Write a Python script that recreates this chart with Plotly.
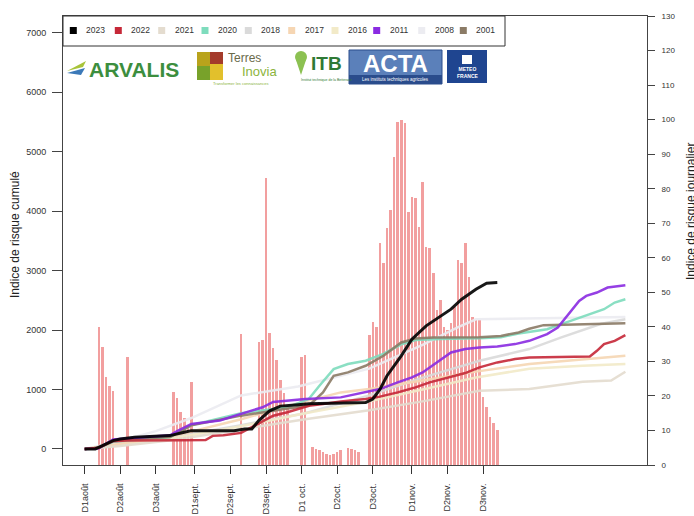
import plotly.graph_objects as go

# ---------------- data ----------------
# x = day of season, 0 = 1 August
tick_days = [0, 10, 20, 31, 41, 51, 61, 71, 81, 92, 102, 112]
tick_labels = ["D1août", "D2août", "D3août", "D1sept.", "D2sept.", "D3sept.",
               "D1 oct.", "D2oct.", "D3oct.", "D1nov.", "D2nov.", "D3nov."]

# daily risk index 2023 (right axis)
bar_days = [4, 5, 6, 7, 8, 12,
            25, 26, 27, 28, 29, 30, 44,
            49, 50, 51, 52, 53, 54, 55, 56, 57, 61, 62,
            64, 65, 66, 67, 68, 69, 70, 71, 72, 74, 75, 76, 77,
            80, 81, 82, 83, 84, 85, 86, 87, 88, 89, 90, 91, 92, 93, 94, 95, 96, 97, 98,
            99, 100, 101, 102, 103, 104, 105, 106, 107, 108, 109, 110, 111, 112, 113,
            114, 115, 116]
bar_values = [40.0, 34.2, 25.6, 22.9, 21.4, 31.4,
              21.2, 19.3, 15.4, 13.5, 11.6, 23.9, 38.0,
              35.7, 36.2, 83.1, 38.1, 33.8, 30.4, 24.6, 20.8, 16.5, 31.4, 31.8,
              5.3, 4.7, 4.2, 3.8, 3.3, 3.0, 3.3, 3.7, 4.3, 4.9, 4.6, 4.3, 3.8,
              37.6, 41.5, 40.0, 64.2, 58.4, 68.5, 73.8, 89.3, 99.4, 99.9, 98.9, 73.3,
              77.7, 77.3, 69.0, 82.0, 63.2, 62.7, 55.5, 44.9, 47.8, 40.0, 39.0, 41.0,
              45.8, 59.4, 58.4, 64.2, 54.5, 42.9, 42.0, 42.0, 19.8, 16.9, 14.0, 12.1, 10.1]

# cumulated risk index per year (left axis)
days_2023 = [0, 3, 8, 10, 14, 24, 28, 30, 42, 45, 47, 49, 52, 55, 60, 63, 79, 81, 83, 85,
             89, 92, 96, 100, 103, 106, 110, 113, 116]
vals_2023 = [0, 0, 140, 168, 196, 224, 280, 308, 308, 336, 336, 480, 640, 720, 745, 760, 780,
             840, 1000, 1231, 1566, 1847, 2070, 2238, 2350, 2518, 2686, 2787, 2798]

days_2022 = [0, 4, 8, 12, 27, 34, 36, 39, 44, 49, 53, 57, 63, 67, 72, 79, 83, 88, 93, 97,
             102, 107, 111, 116, 121, 125, 142, 144, 146, 149, 152]
vals_2022 = [0, 20, 130, 140, 145, 150, 220, 230, 270, 430, 559, 616, 727, 755, 800, 840, 880,
             951, 1035, 1119, 1203, 1276, 1371, 1455, 1511, 1539, 1556, 1650, 1763, 1818, 1914]

days_2021 = [0, 10, 25, 44, 62, 80, 95, 111, 125, 140, 148, 152]
vals_2021 = [0, 50, 150, 330, 500, 650, 800, 979, 1007, 1130, 1150, 1298]

days_2020 = [0, 4, 8, 24, 30, 44, 57, 63, 66, 70, 74, 79, 84, 89, 93, 100, 111, 117, 122,
             126, 130, 134, 138, 142, 146, 149, 152]
vals_2020 = [0, 20, 120, 200, 400, 600, 700, 839, 1063, 1343, 1427, 1483, 1600, 1760, 1830,
             1850, 1860, 1880, 1940, 1975, 2014, 2098, 2182, 2266, 2350, 2462, 2518]

days_2018 = [0, 10, 25, 44, 62, 80, 95, 111, 125, 134, 145, 152]
vals_2018 = [0, 80, 200, 400, 600, 900, 1200, 1483, 1679, 1875, 2100, 2182]

days_2017 = [0, 10, 25, 44, 62, 72, 80, 95, 110, 125, 140, 152]
vals_2017 = [0, 90, 220, 500, 800, 951, 1007, 1150, 1300, 1427, 1500, 1567]

days_2016 = [0, 10, 25, 44, 62, 80, 95, 110, 125, 140, 152]
vals_2016 = [0, 60, 180, 380, 600, 800, 1000, 1200, 1350, 1400, 1427]

days_2011 = [0, 4, 8, 24, 26, 30, 38, 44, 50, 53, 62, 72, 79, 83, 88, 92, 95, 99, 103, 107,
             111, 116, 121, 125, 130, 133, 136, 139, 141, 144, 147, 150, 152]
vals_2011 = [0, 10, 160, 230, 300, 420, 480, 588, 700, 790, 839, 867, 951, 1007, 1119, 1203,
             1287, 1455, 1623, 1679, 1707, 1724, 1763, 1818, 1930, 2042, 2266, 2490, 2573,
             2630, 2714, 2741, 2753]

days_2008 = [0, 8, 20, 30, 44, 60, 80, 95, 105, 110, 152]
vals_2008 = [0, 100, 300, 520, 900, 1050, 1350, 1750, 2050, 2180, 2220]

days_2001 = [0, 4, 8, 24, 30, 44, 57, 63, 67, 70, 74, 79, 84, 89, 93, 98, 111, 117, 122,
             125, 129, 152]
vals_2001 = [0, 20, 150, 200, 400, 560, 680, 727, 951, 1231, 1287, 1399, 1566, 1791, 1858,
             1875, 1880, 1900, 1959, 2020, 2082, 2115]

years = ["2023", "2022", "2021", "2020", "2018", "2017", "2016", "2011", "2008", "2001"]
year_colors = ["#000000", "#C62838", "#E4DCCF", "#7EDCBD", "#DADADA", "#F6D6B3",
               "#F2EAC8", "#8A2BE2", "#ECECF1", "#8B7B66"]
series = {
    "2023": (days_2023, vals_2023), "2022": (days_2022, vals_2022),
    "2021": (days_2021, vals_2021), "2020": (days_2020, vals_2020),
    "2018": (days_2018, vals_2018), "2017": (days_2017, vals_2017),
    "2016": (days_2016, vals_2016), "2011": (days_2011, vals_2011),
    "2008": (days_2008, vals_2008), "2001": (days_2001, vals_2001),
}
draw_order = ["2008", "2018", "2016", "2017", "2021", "2020", "2001", "2011", "2022", "2023"]

# ---------------- layout helpers ----------------
W, H = 694, 516
L, R, T, B = 63, 47, 16, 51
PW, PH = W - L - R, H - T - B


def px(x):
    return (x - L) / PW


def py(y):
    return (H - B - y) / PH


FONT = "Liberation Sans, Arial, sans-serif"

fig = go.Figure()

fig.add_trace(go.Bar(
    x=bar_days, y=bar_values, yaxis="y", width=0.72,
    marker=dict(color="rgba(236,118,118,0.7)", line=dict(width=0)),
    showlegend=False, hoverinfo="skip"))

col = dict(zip(years, year_colors))
for yr in draw_order:
    d, v = series[yr]
    fig.add_trace(go.Scatter(
        x=d, y=v, yaxis="y2", mode="lines", name=yr,
        line=dict(color=col[yr], width=3 if yr == "2023" else 2.5),
        opacity=0.9, showlegend=False))

shapes = []
annotations = []


def txt(x, y, s, size, color, angle=0, xanchor="center"):
    annotations.append(dict(x=px(x), y=py(y), xref="paper", yref="paper", text=s,
                            showarrow=False, xanchor=xanchor, yanchor="middle",
                            textangle=angle,
                            font=dict(size=size, color=color, family=FONT)))


def rect(x0, y0, x1, y1, fill, line=None, kind="rect"):
    shapes.append(dict(type=kind, xref="paper", yref="paper", x0=px(x0), x1=px(x1),
                       y0=py(y1), y1=py(y0), fillcolor=fill,
                       line=line if line else dict(width=0), layer="above"))


def tri(pts, fill):
    p = " L ".join(f"{px(a)},{py(b)}" for a, b in pts)
    shapes.append(dict(type="path", xref="paper", yref="paper", layer="above",
                       path=f"M {p} Z", fillcolor=fill, line=dict(width=0)))


# legend box
rect(63, 16, 505, 46, "white", dict(color="#333", width=1))
sq_x = [73.3, 118.3, 161.7, 205, 248.3, 291.7, 335, 376.7, 421.7, 463.3]
for i, yr in enumerate(years):
    cx = sq_x[i]
    rect(cx - 3.5, 27, cx + 3.5, 34, col[yr])
    txt(cx + 11, 30.5, yr, 8.5, "#333", xanchor="left")

# logos (drawn as simple shapes + text)
tri([(67, 71), (86, 61), (83, 67)], "#A8C43A")
tri([(67, 73), (85, 68), (81, 75)], "#3B79B8")
txt(134, 69.5, "<b>ARVALIS</b>", 21, "#3C8E3E")

for (a, b_, c, d_, fc) in [(197, 52, 210, 66, "#B9A31C"), (210, 52, 223, 64, "#A43B2B"),
                           (197, 66, 210, 80, "#78A22A"), (210, 64, 223, 80, "#E2C02C")]:
    rect(a, b_, c, d_, fc)
txt(244, 57.5, "Terres", 12, "#6A6A4A")
txt(259, 71, "Inovia", 13, "#8BB43C")
txt(240, 83, "Transformer les connaissances", 4, "#8BB43C")

rect(295, 51, 307, 63, "#8CC152", kind="circle")
tri([(296, 60), (306, 60), (301, 75)], "#8CC152")
txt(326, 64, "<b>ITB</b>", 19, "#2F7A35")
txt(326, 80, "Institut technique de la Betterave", 3.5, "#2F7A35")

rect(349, 50, 442, 84, "#5B80BA", dict(color="#2A4C8C", width=1))
rect(349, 75, 442, 84, "#2A4C8C")
txt(395, 63, "<b>ACTA</b>", 24, "white")
txt(395, 79.5, "Les instituts techniques agricoles", 4.5, "white")

rect(447, 50, 487, 83, "#1F4590")
rect(462, 55, 472, 64, "white")
txt(467, 73, "<b>METEO<br>FRANCE</b>", 5, "white")

# axis titles
txt(15, 235, "Indice de risque cumulé", 12, "#222", angle=-90)
txt(691, 212, "Indice de risque journalier", 12, "#222", angle=-90)

fig.update_layout(
    width=W, height=H,
    margin=dict(l=L, r=R, t=T, b=B, pad=0, autoexpand=False),
    paper_bgcolor="white", plot_bgcolor="white",
    showlegend=False, bargap=0,
    font=dict(family=FONT, color="#333"),
    xaxis=dict(range=[-6.08, 158.08], tickvals=tick_days, ticktext=tick_labels,
               tickangle=-90, ticks="outside", ticklen=8, tickcolor="#333",
               tickfont=dict(size=9, color="#333"), ticklabelstandoff=6,
               showline=True, mirror=True, linecolor="#444", linewidth=1,
               showgrid=False, zeroline=False, automargin=False),
    yaxis=dict(range=[0, 130], side="right", dtick=10, ticks="outside", ticklen=7,
               tickcolor="#444", tickfont=dict(size=8, color="#333"), ticklabelstandoff=5,
               showline=True, linecolor="#444", linewidth=1, showgrid=False,
               zeroline=False, automargin=False),
    yaxis2=dict(range=[-270, 7280], overlaying="y", side="left",
                tickvals=[0, 1000, 2000, 3000, 4000, 5000, 6000, 7000],
                ticks="outside", ticklen=10, tickcolor="#444",
                tickfont=dict(size=9, color="#333"), ticklabelstandoff=4,
                showline=True, linecolor="#444", linewidth=1, showgrid=False,
                zeroline=False, automargin=False),
    shapes=shapes, annotations=annotations,
)

fig.write_html("out.html", config={"displayModeBar": False},
               post_script="document.body.style.margin='0px';"
                           "document.body.style.overflow='hidden';")
